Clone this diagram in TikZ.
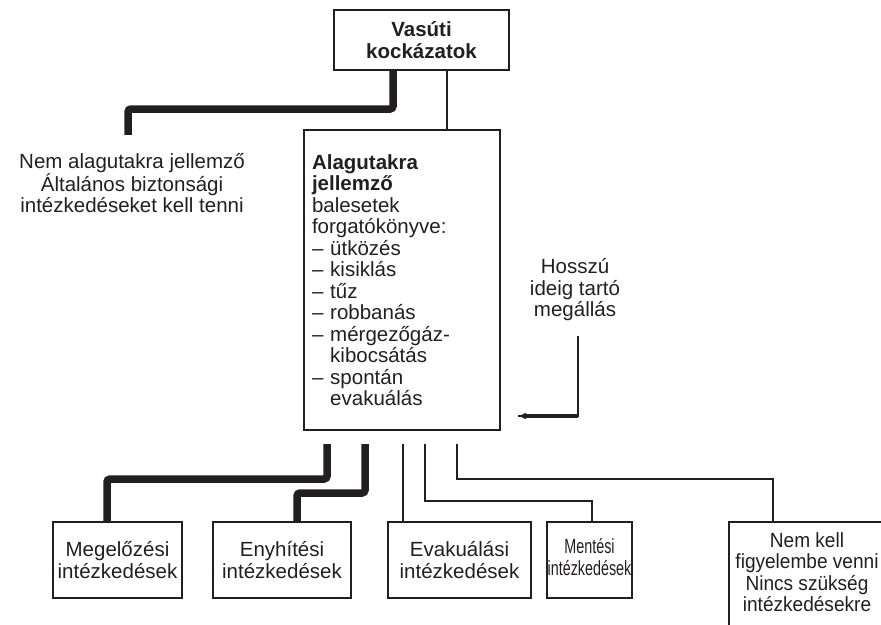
\documentclass[tikz,border=0pt]{standalone}
\usepackage{fontspec}
\setmainfont{Liberation Sans}
\usetikzlibrary{arrows.meta,calc,positioning}
\definecolor{ink}{HTML}{231F20}
\newcommand{\squeeze}[2]{\scalebox{#1}[1]{\begin{tabular}{@{}c@{}}#2\end{tabular}}}

\begin{document}
\begin{tikzpicture}[x=1pt,y=-1pt,>=Latex,font=\fontsize{20.5}{21.5}\selectfont,
  box/.style={draw=ink,line width=2pt,inner sep=0pt,align=center,text=ink},
  heavy/.style={draw=ink,line width=7.5pt,rounded corners=3pt},
  light/.style={draw=ink,line width=2pt}]
\clip (0,0) rectangle (881,624);
% top of the tree
\node[box,minimum width=175,minimum height=60,font=\fontsize{20.5}{21.5}\selectfont\bfseries] (risk) at (421.5,40) {Vasúti\\kockázatok};
\node[align=center,inner sep=0pt,text=ink] (side) at (132,183) {Nem alagutakra jellemző\\Általános biztonsági\\intézkedéseket kell tenni};
\node[box,minimum width=196,minimum height=300,text width=180,align=left] (scen) at (402,280) {{\bfseries Alagutakra}\\{\bfseries jellemző}\\balesetek\\forgatókönyve:\\– ütközés\\– kisiklás\\– tűz\\– robbanás\\– mérgezőgáz-\\\phantom{– }kibocsátás\\– spontán\\\phantom{– }evakuálás};
\draw[heavy] ([xshift=-28.5pt]risk.south) -- ++(0,38) -| ([xshift=-4pt,yshift=18pt]side.north);
\draw[light] ([xshift=25.5pt]risk.south) -- ([xshift=25.5pt]risk.south |- scen.north);
% long stop, arrow back to the box
\node[align=center,inner sep=0pt,text=ink] (halt) at (575,290) {Hosszú\\ideig tartó\\megállás};
\coordinate (back) at ([xshift=17pt,yshift=15pt]scen.south east);
\draw[light] ([xshift=3pt,yshift=-15pt]halt.south) coordinate (bend0) |- (back);
\draw[draw=ink,line width=3.2pt,-{Latex[length=8pt,width=7pt]}] (bend0 |- back) -- (back);
% measures
\node[box,minimum width=129,minimum height=76] (m1) at (117.5,560) {Megelőzési\\intézkedések};
\node[box,minimum width=138,minimum height=76] (m2) at (282,560) {Enyhítési\\intézkedések};
\node[box,minimum width=143,minimum height=76] (m3) at (459.5,560) {Evakuálási\\intézkedések};
\node[box,minimum width=85,minimum height=76] (m4) at (589.5,560) {\squeeze{0.7}{Mentési\\intézkedések}};
\node[box,minimum width=156,minimum height=106] (m5) at (807,575) {\squeeze{0.93}{Nem kell\\figyelembe venni\\Nincs szükség\\intézkedésekre}};
\draw[heavy] ([xshift=-75pt,yshift=-13pt]scen.south) -- ++(0,35) -| ([xshift=-10.5pt]m1.north);
\draw[heavy] ([xshift=-37pt,yshift=-13pt]scen.south) -- ++(0,49) -| ([xshift=15pt]m2.north);
\draw[light] ([xshift=1pt,yshift=-13pt]scen.south) -- ([xshift=-56.5pt]m3.north);
\draw[light] ([xshift=23pt,yshift=-13pt]scen.south) -- ++(0,57) -| ([xshift=2.5pt]m4.north);
\draw[light] ([xshift=55pt,yshift=-13pt]scen.south) -- ++(0,35) -| ([xshift=-34pt]m5.north);
\end{tikzpicture}
\end{document}
